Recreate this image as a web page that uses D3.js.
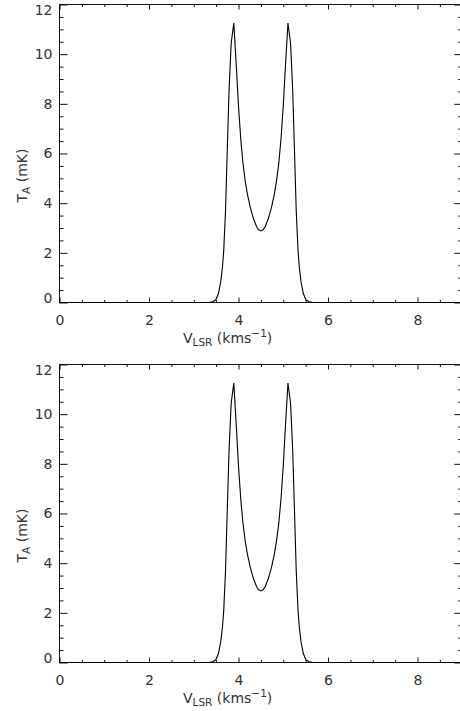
<!DOCTYPE html>
<html>
<head>
<meta charset="utf-8">
<script src="https://cdn.jsdelivr.net/npm/d3@7"></script>
<style>
  html, body { margin: 0; padding: 0; background: #fff; }
  svg { display: block; }
  .tick text { font-family: "DejaVu Sans", sans-serif; font-size: 14px; fill: #333; }
  .ttl { font-family: "DejaVu Sans", sans-serif; font-size: 14px; fill: #333; }
</style>
</head>
<body>
<svg id="chart" width="460" height="711"></svg>
<script>
// Line profile: antenna temperature (mK) against LSR velocity (km/s)
const velocity = [0.0, 3.30, 3.36, 3.42, 3.49, 3.55, 3.60, 3.64, 3.67, 3.71, 3.75, 3.79, 3.837, 3.895,
  3.955, 4.00, 4.05, 4.10, 4.15, 4.20, 4.26, 4.33, 4.40, 4.45, 4.50,
  4.55, 4.60, 4.67, 4.74, 4.80, 4.85, 4.90, 4.95, 5.00,
  5.045, 5.105, 5.163, 5.21, 5.25, 5.29, 5.33, 5.36, 5.40, 5.45, 5.51, 5.58, 5.64, 5.70, 9.0];
const tempUpper = [0, 0, 0.01, 0.03, 0.1, 0.35, 0.8, 1.4, 2.1, 3.7, 6.2, 8.6, 10.45, 11.25,
  9.4, 7.9, 6.6, 5.6, 4.9, 4.35, 3.85, 3.4, 3.07, 2.93, 2.88,
  2.93, 3.07, 3.4, 3.85, 4.35, 4.9, 5.6, 6.6, 7.9,
  9.4, 11.25, 10.45, 8.6, 6.2, 3.7, 2.1, 1.4, 0.8, 0.35, 0.1, 0.03, 0.01, 0, 0];
const tempLower = [0, 0, 0.01, 0.03, 0.1, 0.35, 0.8, 1.4, 2.1, 3.7, 6.2, 8.6, 10.45, 11.25,
  9.4, 7.9, 6.6, 5.6, 4.9, 4.35, 3.85, 3.4, 3.07, 2.93, 2.88,
  2.93, 3.07, 3.4, 3.85, 4.35, 4.9, 5.6, 6.6, 7.9,
  9.4, 11.25, 10.45, 8.6, 6.2, 3.7, 2.1, 1.4, 0.8, 0.35, 0.1, 0.03, 0.01, 0, 0];

const xTicks = [0, 2, 4, 6, 8];
const yTicks = [0, 2, 4, 6, 8, 10, 12];
const xMinor = d3.range(0, 9.01, 0.5).filter(v => Math.abs(v % 2) > 1e-6);
const yMinor = d3.range(0, 12.01, 0.5).filter(v => Math.abs(v % 2) > 1e-6);

const svg = d3.select("#chart");
const left = 59.5, right = 462.25;
const x = d3.scaleLinear().domain([0, 9]).range([left, right]);

const panels = [
  { top: 4.5, bottom: 302.5, data: tempUpper },
  { top: 364.5, bottom: 662.5, data: tempLower }
];

panels.forEach(p => {
  const y = d3.scaleLinear().domain([0, 12]).range([p.bottom, p.top]);
  const g = svg.append("g");

  // ticks pointing inward on all four sides
  const axes = [
    [d3.axisBottom(x).tickValues(xTicks).tickSize(-5).tickPadding(12.5).tickFormat(d3.format("d")), p.bottom],
    [d3.axisBottom(x).tickValues(xMinor).tickSize(-2.5).tickFormat(""), p.bottom],
    [d3.axisTop(x).tickValues(xTicks).tickSize(-5).tickFormat(""), p.top],
    [d3.axisTop(x).tickValues(xMinor).tickSize(-2.5).tickFormat(""), p.top]
  ];
  axes.forEach(([ax, ty]) => {
    const a = g.append("g").attr("transform", `translate(0,${ty})`).call(ax);
    a.select(".domain").remove();
    a.selectAll(".tick line").attr("stroke", "#111");
  });

  const yAxes = [
    [d3.axisLeft(y).tickValues(yTicks).tickSize(-8).tickPadding(7).tickFormat(d3.format("d")), left],
    [d3.axisLeft(y).tickValues(yMinor).tickSize(-4).tickFormat(""), left],
    [d3.axisRight(y).tickValues(yTicks).tickSize(-8).tickFormat(""), right],
    [d3.axisRight(y).tickValues(yMinor).tickSize(-4).tickFormat(""), right]
  ];
  yAxes.forEach(([ax, tx]) => {
    const a = g.append("g").attr("transform", `translate(${tx},0)`).call(ax);
    a.select(".domain").remove();
    a.selectAll(".tick line").attr("stroke", "#111");
    // end labels are kept inside the frame
    a.selectAll(".tick text")
      .attr("dy", d => d === 0 ? "0.02em" : d === 12 ? "0.74em" : "0.32em");
  });

  // frame
  g.append("rect")
    .attr("x", left).attr("y", p.top)
    .attr("width", right - left).attr("height", p.bottom - p.top)
    .attr("fill", "none").attr("stroke", "#111").attr("stroke-width", 1);

  // spectrum
  const line = d3.line().x((d, i) => x(velocity[i])).y(d => y(d));
  g.append("path")
    .datum(p.data)
    .attr("d", line)
    .attr("fill", "none")
    .attr("stroke", "#000")
    .attr("stroke-width", 1.1);

  // x title
  const xt = g.append("text").attr("class", "ttl")
    .attr("x", 183).attr("y", p.bottom + 40);
  xt.append("tspan").text("V");
  xt.append("tspan").attr("dy", 3).attr("font-size", "10.5px").text("LSR");
  xt.append("tspan").attr("dy", -3).text(" (kms");
  xt.append("tspan").attr("dy", -6).attr("font-size", "10.5px").text("−1");
  xt.append("tspan").attr("dy", 6).text(")");

  // y title
  const yt = g.append("text").attr("class", "ttl")
    .attr("transform", `translate(27,${p.top + 198}) rotate(-90)`);
  yt.append("tspan").text("T");
  yt.append("tspan").attr("dy", 3).attr("font-size", "10.5px").text("A");
  yt.append("tspan").attr("dy", -3).text(" (mK)");
});
</script>
</body>
</html>
